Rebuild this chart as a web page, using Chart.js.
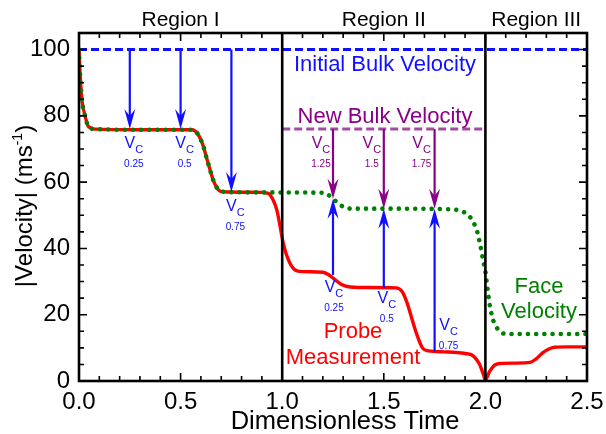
<!DOCTYPE html>
<html>
<head>
<meta charset="utf-8">
<script src="https://cdn.jsdelivr.net/npm/chart.js@4.4.1/dist/chart.umd.min.js"></script>
<style>
  body { margin: 0; background: #fff; }
</style>
</head>
<body>
<canvas id="velocityChart" width="606" height="434"></canvas>
<script>
// probe measurement (red)
const probeTime = [0, 0.005, 0.01, 0.016, 0.03, 0.046, 0.08, 0.3, 0.555, 0.587, 0.612, 0.628, 0.645, 0.66, 0.686, 0.71, 0.9, 0.925, 0.94, 0.973, 0.99, 1.005, 1.03, 1.063, 1.1, 1.2, 1.23, 1.26, 1.29, 1.32, 1.4, 1.56, 1.59, 1.615, 1.64, 1.665, 1.69, 1.72, 1.8, 1.9, 1.94, 1.97, 1.99, 2.0, 2.02, 2.045, 2.07, 2.15, 2.22, 2.25, 2.28, 2.31, 2.34, 2.4, 2.5];
const probeVel  = [100, 93, 88, 84, 80, 76.8, 76, 75.8, 75.8, 74.3, 70.8, 67.3, 63.7, 60.7, 57.7, 57.1, 56.9, 56.7, 56.2, 51.7, 46.6, 41.6, 36.6, 33.5, 33, 32.8, 32, 30.6, 29.2, 28.5, 28.2, 28.1, 27, 23.5, 18.4, 13.6, 10, 9.1, 8.8, 8.3, 7.6, 5.2, 2, 0.3, 2.8, 4.8, 5.3, 5.4, 5.6, 6.7, 8.4, 9.6, 10.2, 10.3, 10.3];

// face velocity (green)
const faceTime = [0, 0.005, 0.01, 0.016, 0.03, 0.046, 0.08, 0.3, 0.555, 0.587, 0.612, 0.628, 0.645, 0.66, 0.686, 0.71, 0.9, 1.2, 1.225, 1.25, 1.275, 1.3, 1.34, 1.5, 1.84, 1.88, 1.91, 1.94, 1.96, 1.975, 1.99, 2.0, 2.01, 2.02, 2.035, 2.055, 2.075, 2.1, 2.5];
const faceVel  = [100, 93, 88, 84, 80, 76.8, 76, 75.8, 75.8, 74.3, 70.8, 67.3, 63.7, 60.7, 57.7, 57.1, 56.9, 56.8, 56.2, 55, 53.6, 52.6, 52, 52, 51.8, 51.2, 50.4, 48, 45, 41, 36, 33, 28, 23.5, 19, 16.2, 14.8, 14.2, 14.2];

const initialBulk = 100;
const newBulk = 76;
const newBulkRange = [1.0, 2.0];
const regionBounds = [1.0, 2.0];

// arrows
const coolArrowX = [0.25, 0.5, 0.75];
const coolArrowTo = [76, 76, 57];
const bulkArrowX = [1.25, 1.5, 1.75];
const bulkArrowTo = [55, 52, 52];
const probeArrowFrom = [32, 28, 9];
const coolSubs = ['0.25', '0.5', '0.75'];
const bulkSubs = ['1.25', '1.5', '1.75'];

const xTicks = [0, 0.5, 1.0, 1.5, 2.0, 2.5];
const yTicks = [0, 20, 40, 60, 80, 100];

const FONT = '"Liberation Sans", Arial, sans-serif';
const BLUE = '#1010ff';
const PURPLE = '#880088';
const GREEN = '#008000';
const RED = '#ff0000';

const pts = (xs, ys) => xs.map((x, i) => ({ x: x, y: ys[i] }));

function drawArrow(ctx, x, y0, y1, color) {
    const dir = y1 > y0 ? 1 : -1;
    const len = 20, half = 5.5, notch = 7;
    ctx.strokeStyle = color;
    ctx.lineWidth = 2.2;
    ctx.beginPath();
    ctx.moveTo(x, y0);
    ctx.lineTo(x, y1 - dir * (len - notch));
    ctx.stroke();
    ctx.fillStyle = color;
    ctx.beginPath();
    ctx.moveTo(x, y1);
    ctx.lineTo(x - half, y1 - dir * len);
    ctx.lineTo(x, y1 - dir * (len - notch));
    ctx.lineTo(x + half, y1 - dir * len);
    ctx.closePath();
    ctx.fill();
}

// V with subscript C and small number below, centred on cx, V baseline at by
function drawVc(ctx, cx, by, sub, color) {
    ctx.fillStyle = color;
    ctx.textAlign = 'left';
    ctx.textBaseline = 'alphabetic';
    ctx.font = '16px ' + FONT;
    const vw = ctx.measureText('V').width;
    ctx.font = '11px ' + FONT;
    const cw = ctx.measureText('C').width;
    const left = cx - (vw + cw) / 2;
    ctx.font = '16px ' + FONT;
    ctx.fillText('V', left, by);
    ctx.font = '11px ' + FONT;
    ctx.fillText('C', left + vw, by + 5);
    ctx.font = '10px ' + FONT;
    ctx.textAlign = 'center';
    ctx.fillText(sub, cx, by + 19);
}

const decorPlugin = {
    id: 'decor',
    afterDatasetsDraw(chart) {
        const { ctx, chartArea: a, scales: { x, y } } = chart;
        ctx.save();

        // region separators
        ctx.strokeStyle = '#000';
        ctx.lineWidth = 2.6;
        regionBounds.forEach(b => {
            const px = x.getPixelForValue(b);
            ctx.beginPath();
            ctx.moveTo(px, a.top);
            ctx.lineTo(px, a.bottom);
            ctx.stroke();
        });

        // arrows
        coolArrowX.forEach((v, i) => {
            const px = x.getPixelForValue(v);
            const tip = y.getPixelForValue(coolArrowTo[i]);
            drawArrow(ctx, px, y.getPixelForValue(initialBulk), tip, BLUE);
            drawVc(ctx, px + 4, tip + 19, coolSubs[i], BLUE);
        });
        const bulkOff = [-12, -12, -13];
        const probeOff = [[1, 17], [3, 15], [14, -21]];
        bulkArrowX.forEach((v, i) => {
            const px = x.getPixelForValue(v);
            const top = y.getPixelForValue(newBulk);
            const meet = y.getPixelForValue(bulkArrowTo[i]);
            drawArrow(ctx, px, top, meet, PURPLE);
            drawVc(ctx, px + bulkOff[i], top + 19, bulkSubs[i], PURPLE);
            const start = y.getPixelForValue(probeArrowFrom[i]);
            drawArrow(ctx, px, start, meet, BLUE);
            drawVc(ctx, px + probeOff[i][0], start + probeOff[i][1], coolSubs[i], BLUE);
        });

        // frame
        ctx.strokeStyle = '#000';
        ctx.lineWidth = 2.6;
        ctx.strokeRect(a.left, a.top, a.right - a.left, a.bottom - a.top);

        // inward ticks on all sides
        ctx.lineWidth = 1.6;
        for (let i = 0; i <= 25; i++) {
            const px = x.getPixelForValue(i / 10);
            const len = i % 5 === 0 ? 8 : 5;
            ctx.beginPath();
            ctx.moveTo(px, a.bottom); ctx.lineTo(px, a.bottom - len);
            ctx.moveTo(px, a.top); ctx.lineTo(px, a.top + len);
            ctx.stroke();
        }
        for (let v = 0; v <= 105; v += 5) {
            const py = y.getPixelForValue(v);
            const len = v % 20 === 0 ? 8 : 5;
            ctx.beginPath();
            ctx.moveTo(a.left, py); ctx.lineTo(a.left + len, py);
            ctx.moveTo(a.right, py); ctx.lineTo(a.right - len, py);
            ctx.stroke();
        }

        // texts
        ctx.textAlign = 'center';
        ctx.textBaseline = 'alphabetic';
        ctx.fillStyle = '#000';
        ctx.font = '21px ' + FONT;
        ctx.fillText('Region I', x.getPixelForValue(0.5), 26);
        ctx.fillText('Region II', x.getPixelForValue(1.5), 26);
        ctx.fillText('Region III', x.getPixelForValue(2.25), 26);

        ctx.font = '22px ' + FONT;
        ctx.fillStyle = BLUE;
        ctx.fillText('Initial Bulk Velocity', 385, 71);
        ctx.fillStyle = PURPLE;
        ctx.fillText('New Bulk Velocity', 385, 123);
        ctx.fillStyle = GREEN;
        ctx.fillText('Face', 539, 293);
        ctx.fillText('Velocity', 539, 318);
        ctx.fillStyle = RED;
        ctx.fillText('Probe', 353, 338);
        ctx.fillText('Measurement', 353, 364);

        ctx.fillStyle = '#000';
        ctx.font = '25.5px ' + FONT;
        ctx.fillText('Dimensionless Time', 345, 429);

        // y title with superscript
        ctx.translate(32, 206);
        ctx.rotate(-Math.PI / 2);
        ctx.textAlign = 'left';
        const main = '|Velocity| (ms';
        ctx.font = '24px ' + FONT;
        const w1 = ctx.measureText(main).width;
        const w3 = ctx.measureText(')').width;
        ctx.font = '14px ' + FONT;
        const w2 = ctx.measureText('-1').width;
        let sx = -(w1 + w2 + w3) / 2;
        ctx.font = '24px ' + FONT;
        ctx.fillText(main, sx, 0);
        ctx.font = '14px ' + FONT;
        ctx.fillText('-1', sx + w1, -10);
        ctx.font = '24px ' + FONT;
        ctx.fillText(')', sx + w1 + w2, 0);

        ctx.restore();
    }
};

new Chart(document.getElementById('velocityChart').getContext('2d'), {
    type: 'line',
    data: {
        datasets: [
            {
                label: 'Face Velocity',
                data: pts(faceTime, faceVel),
                borderColor: GREEN,
                borderWidth: 4.6,
                borderDash: [0.01, 8.2],
                borderCapStyle: 'round',
                cubicInterpolationMode: 'monotone',
                pointRadius: 0,
                order: 1,
            },
            {
                label: 'Probe Measurement',
                data: pts(probeTime, probeVel),
                borderColor: RED,
                borderWidth: 3.4,
                cubicInterpolationMode: 'monotone',
                pointRadius: 0,
                order: 2,
            },
            {
                label: 'Initial Bulk Velocity',
                data: pts([0, 2.5], [initialBulk, initialBulk]),
                borderColor: BLUE,
                borderWidth: 3,
                borderDash: [8, 4],
                pointRadius: 0,
                order: 3,
            },
            {
                label: 'New Bulk Velocity',
                data: pts(newBulkRange, [newBulk, newBulk]),
                borderColor: '#a04ca0',
                borderWidth: 3,
                borderDash: [8, 4],
                pointRadius: 0,
                order: 3,
            },
        ],
    },
    options: {
        responsive: false,
        animation: false,
        layout: { padding: { top: 33, right: 19, left: 0, bottom: 0 } },
        plugins: { legend: { display: false }, tooltip: { enabled: false } },
        scales: {
            x: {
                type: 'linear',
                min: 0,
                max: 2.5,
                afterBuildTicks: s => { s.ticks = xTicks.map(v => ({ value: v })); },
                afterFit: s => { s.height = 53; s.paddingLeft = 0; s.paddingRight = 0; },
                grid: { display: false, drawTicks: false },
                border: { display: false },
                ticks: {
                    color: '#000',
                    padding: 7,
                    maxRotation: 0,
                    font: { size: 24, family: FONT },
                    callback: v => v.toFixed(1),
                },
            },
            y: {
                type: 'linear',
                min: 0,
                max: 105,
                afterBuildTicks: s => { s.ticks = yTicks.map(v => ({ value: v })); },
                afterFit: s => { s.width = 79; s.paddingTop = 0; s.paddingBottom = 0; },
                grid: { display: false, drawTicks: false },
                border: { display: false },
                ticks: {
                    color: '#000',
                    padding: 9,
                    font: { size: 24, family: FONT },
                },
            },
        },
    },
    plugins: [decorPlugin],
});
</script>
</body>
</html>
